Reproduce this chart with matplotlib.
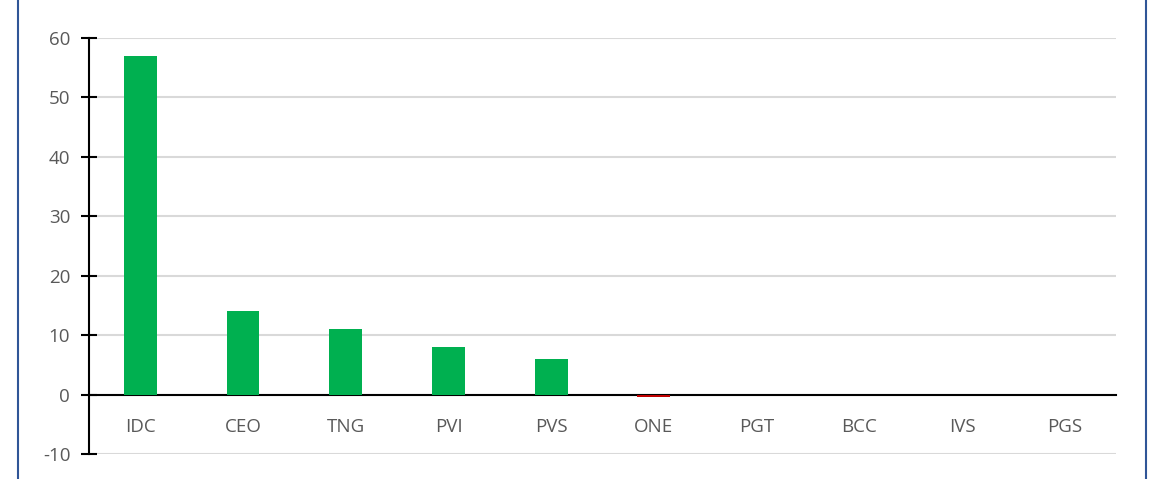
import matplotlib
matplotlib.use("Agg")
import matplotlib.pyplot as plt
from matplotlib.lines import Line2D

categories = ["IDC", "CEO", "TNG", "PVI", "PVS", "ONE", "PGT", "BCC", "IVS", "PGS"]
values = [57, 14, 11, 8, 6, -0.4, 0, 0, 0, 0]
yticks = [-10, 0, 10, 20, 30, 40, 50, 60]

plt.rcParams['font.family'] = ['Open Sans', 'DejaVu Sans']

fig = plt.figure(figsize=(11.6, 4.79), dpi=100)
ax = fig.add_axes([89/1160, 25/479, (1116-89)/1160, (454-38)/479])

colors = ['#00B050' if v >= 0 else '#C00000' for v in values]
x = list(range(len(categories)))
ax.bar(x, values, width=0.32, color=colors, zorder=3)

ax.set_xlim(-0.5, len(categories) - 0.5)
ax.set_ylim(-10, 60)
ax.set_yticks(yticks)
ax.set_yticklabels([str(t) for t in yticks], color='#595959', fontsize=13.5)
ax.yaxis.grid(True, color='#D9D9D9', linewidth=1.5, zorder=0)
ax.set_axisbelow(True)

for s in ['top', 'right']:
    ax.spines[s].set_visible(False)
ax.spines['left'].set_color('black')
ax.spines['left'].set_linewidth(1.5)
ax.spines['bottom'].set_position(('data', 0))
ax.spines['bottom'].set_color('black')
ax.spines['bottom'].set_linewidth(1.5)
ax.spines['bottom'].set_zorder(2.5)

ax.tick_params(axis='y', direction='inout', length=11, width=1.5, color='black', pad=8)
ax.set_xticks(x)
ax.set_xticklabels(categories, color='#595959', fontsize=13.5)
ax.tick_params(axis='x', length=0, pad=17)

fig.add_artist(Line2D([18/1160, 18/1160], [0, 1], color='#2F5597', linewidth=1.5, transform=fig.transFigure))
fig.add_artist(Line2D([1146/1160, 1146/1160], [0, 1], color='#2F5597', linewidth=1.5, transform=fig.transFigure))

fig.savefig("out.png", dpi=100)
